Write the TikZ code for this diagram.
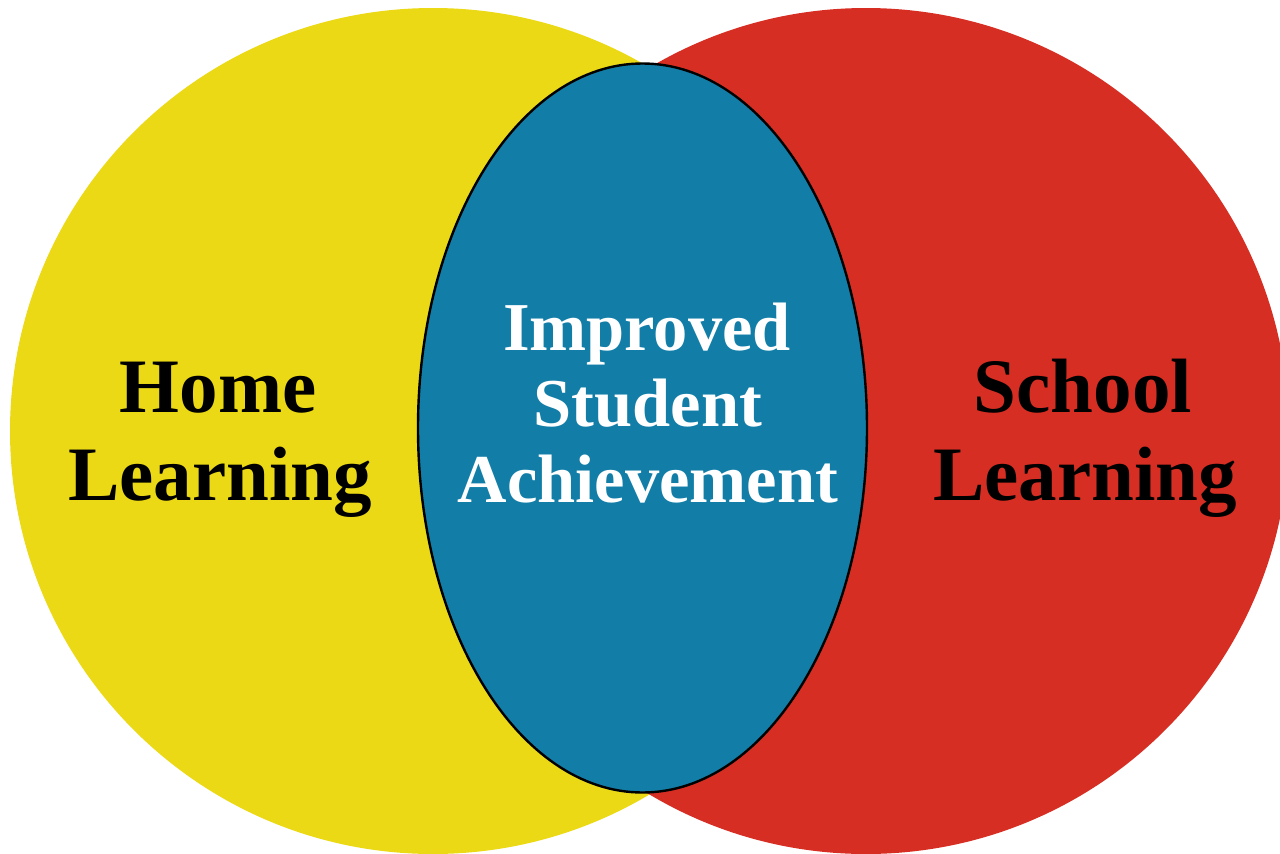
\documentclass[tikz,border=0pt]{standalone}
\usepackage{fontspec}
\setmainfont{Liberation Serif}
\definecolor{homeyellow}{RGB}{235,217,21}
\definecolor{schoolred}{RGB}{215,46,36}
\definecolor{midblue}{RGB}{18,126,168}
\tikzset{
  blacklabel/.style={anchor=base, inner sep=0pt, text=black, font=\bfseries\fontsize{77}{88}\selectfont},
  whitelabel/.style={anchor=base, inner sep=0pt, text=white, font=\bfseries\fontsize{68.5}{76}\selectfont}
}
\begin{document}
\begin{tikzpicture}[x=1pt,y=-1pt]
\useasboundingbox (0,0) rectangle (1280,854);
\fill[homeyellow] (433,431) circle (423);
\fill[schoolred] (866,431) circle (423);
\draw[fill=midblue, line width=2.4pt] (642.5,428) ellipse (224.5 and 364.5);
\node[blacklabel] (home1) at (218,412) {Home};
\node[blacklabel] (home2) at (220,500) {Learning};
\node[blacklabel] (school1) at (1083,412) {School};
\node[blacklabel] (school2) at (1085,500) {Learning};
\node[whitelabel] (mid1) at (647,350) {Improved};
\node[whitelabel] (mid2) at (648,426) {Student};
\node[whitelabel] (mid3) at (648,502) {Achievement};
\end{tikzpicture}
\end{document}
